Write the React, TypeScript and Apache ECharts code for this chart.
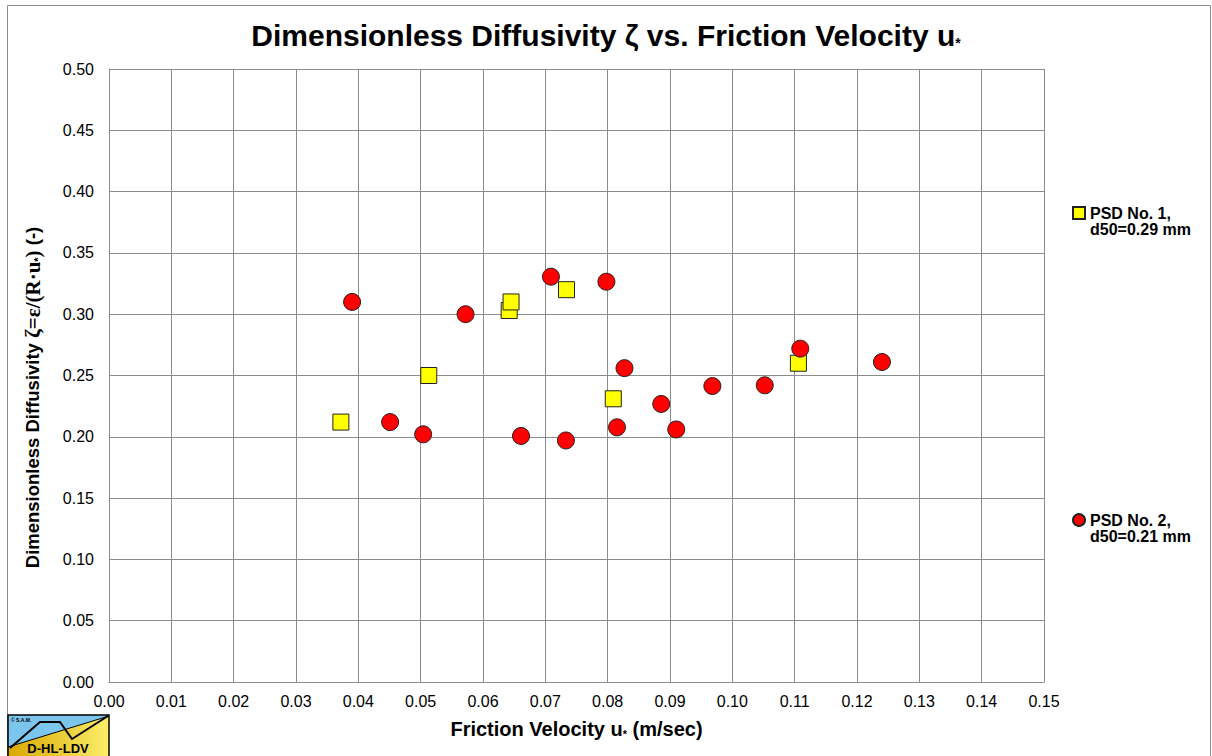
import React, { useEffect, useRef } from "react";
import * as echarts from "echarts";

const xTicks = [0, 0.15, 0.01];
const yTicks = [0, 0.5, 0.05];

const psd1Name = "PSD No. 1,\nd50=0.29 mm";
const psd2Name = "PSD No. 2,\nd50=0.21 mm";

const psd1U = [0.0372, 0.0513, 0.0642, 0.0645, 0.0734, 0.0809, 0.1106];
const psd1Zeta = [0.212, 0.25, 0.303, 0.31, 0.32, 0.231, 0.26];

const psd2U = [0.039, 0.0451, 0.0504, 0.0572, 0.0661, 0.0709, 0.0733, 0.0798, 0.0815, 0.0827, 0.0886, 0.091, 0.0968, 0.1052, 0.1109, 0.124];
const psd2Zeta = [0.31, 0.212, 0.202, 0.3, 0.2007, 0.3306, 0.197, 0.3265, 0.2077, 0.256, 0.2268, 0.206, 0.2414, 0.242, 0.2719, 0.261];

const FONT = "'Liberation Sans', Arial, sans-serif";
const SERIF = "'Liberation Serif', 'Times New Roman', serif";

export default function App() {
  const ref = useRef<HTMLDivElement>(null);
  useEffect(() => {
    if (!ref.current) return;
    const chart = echarts.init(ref.current, undefined, { renderer: "svg" });
    const pairs = (xs: number[], ys: number[]) => xs.map((x, i) => [x, ys[i]]);
    const gridColor = "#8c8c8c";
    const legendText = {
      fontFamily: FONT,
      fontWeight: "bold",
      fontSize: 16,
      color: "#000",
      lineHeight: 16,
    };
    chart.setOption({
      animation: false,
      backgroundColor: "#ffffff",
      title: {
        text: "Dimensionless Diffusivity ζ vs. Friction Velocity u{sub|*}",
        left: "center",
        top: 15,
        textStyle: {
          fontFamily: FONT,
          fontWeight: "bold",
          fontSize: 30,
          color: "#000",
          rich: {
            sub: { fontFamily: FONT, fontWeight: "bold", fontSize: 14, padding: [16, 0, 0, 0], color: "#000" },
          },
        },
      },
      grid: { left: 109, top: 69, right: 168, bottom: 74, containLabel: false },
      xAxis: {
        type: "value",
        min: xTicks[0],
        max: xTicks[1],
        interval: xTicks[2],
        name: "Friction Velocity u{sub|*} (m/sec)",
        nameLocation: "middle",
        nameGap: 36,
        nameTextStyle: {
          fontFamily: FONT,
          fontWeight: "bold",
          fontSize: 20,
          color: "#000",
          rich: { sub: { fontFamily: FONT, fontWeight: "bold", fontSize: 11, padding: [10, 0, 0, 0], color: "#000" } },
        },
        axisLine: { show: true, lineStyle: { color: gridColor, width: 1 } },
        axisTick: { show: false },
        axisLabel: {
          fontFamily: FONT,
          fontSize: 16,
          color: "#000",
          margin: 11,
          formatter: (v: number) => v.toFixed(2),
        },
        splitLine: { show: true, lineStyle: { color: gridColor, width: 1 } },
      },
      yAxis: {
        type: "value",
        min: yTicks[0],
        max: yTicks[1],
        interval: yTicks[2],
        name: "Dimensionless Diffusivity {s|ζ=ε/(R·u}{sub|*}{s|)} (-)",
        nameLocation: "middle",
        nameGap: 66,
        nameTextStyle: {
          fontFamily: FONT,
          fontWeight: "bold",
          fontSize: 18.5,
          color: "#000",
          padding: [0, 44, 0, 0],
          rich: {
            s: { fontFamily: SERIF, fontWeight: "bold", fontSize: 21, color: "#000" },
            sub: { fontFamily: FONT, fontWeight: "bold", fontSize: 11, padding: [10, 0, 0, 0], color: "#000" },
          },
        },
        axisLine: { show: true, lineStyle: { color: gridColor, width: 1 } },
        axisTick: { show: false },
        axisLabel: {
          fontFamily: FONT,
          fontSize: 16,
          color: "#000",
          margin: 15,
          formatter: (v: number) => v.toFixed(2),
        },
        splitLine: { show: true, lineStyle: { color: gridColor, width: 1 } },
      },
      legend: [
        {
          data: [{ name: psd1Name, icon: "rect" }],
          left: 1072,
          top: 189,
          padding: 0,
          itemWidth: 12,
          itemHeight: 12,
          itemGap: 3,
          formatter: (n: string) => " \n" + n,
          textStyle: legendText,
        },
        {
          data: [{ name: psd2Name, icon: "circle" }],
          left: 1072,
          top: 496,
          padding: 0,
          itemWidth: 12,
          itemHeight: 12,
          itemGap: 3,
          formatter: (n: string) => " \n" + n,
          textStyle: legendText,
        },
      ],
      series: [
        {
          name: psd1Name,
          type: "scatter",
          symbol: "rect",
          symbolSize: 16,
          itemStyle: { color: "#ffff00", borderColor: "#222", borderWidth: 1, opacity: 1 },
          data: pairs(psd1U, psd1Zeta),
        },
        {
          name: psd2Name,
          type: "scatter",
          symbol: "circle",
          symbolSize: 17,
          itemStyle: { color: "#ff0000", borderColor: "#222", borderWidth: 1, opacity: 1 },
          data: pairs(psd2U, psd2Zeta),
        },
      ],
      graphic: [
        {
          type: "rect",
          shape: { x: 7.5, y: 5.5, width: 1203, height: 780 },
          style: { fill: "none", stroke: "#8c8c8c", lineWidth: 1 },
          silent: true,
        },
        {
          type: "group",
          x: 8,
          y: 715,
          children: [
            {
              type: "polygon",
              shape: { points: [[0, 0], [101, 0], [101, 1], [0, 32]] },
              style: { fill: "#7cc6ee" },
            },
            {
              type: "polygon",
              shape: { points: [[0, 32], [101, 1], [101, 45], [0, 45]] },
              style: {
                fill: new echarts.graphic.LinearGradient(0, 0, 1, 0, [
                  { offset: 0, color: "#d9a800" },
                  { offset: 1, color: "#fbee6a" },
                ]),
              },
            },
            {
              type: "line",
              shape: { x1: 0, y1: 32, x2: 101, y2: 1 },
              style: { stroke: "#000", lineWidth: 1 },
            },
            {
              type: "polyline",
              shape: { points: [[2, 33], [32, 7], [52, 7], [64, 24], [100, 1]] },
              style: { stroke: "#000", lineWidth: 2, fill: "none" },
            },
            {
              type: "rect",
              shape: { x: 0, y: 0, width: 101, height: 45 },
              style: { fill: "none", stroke: "#000", lineWidth: 1.5 },
            },
            {
              type: "text",
              x: 3,
              y: 2,
              style: { text: "© S.A.M.", fontSize: 5, fontFamily: FONT, fontWeight: "bold", fill: "#000" },
            },
            {
              type: "text",
              x: 50,
              y: 27,
              style: {
                text: "D-HL-LDV",
                fontSize: 13,
                fontFamily: FONT,
                fontWeight: "bold",
                fill: "#000",
                align: "center",
              },
            },
          ],
        },
      ],
    });
    return () => chart.dispose();
  }, []);
  return (
    <div
      ref={ref}
      style={{ position: "absolute", left: 0, top: 0, width: 1212, height: 756 }}
    />
  );
}
